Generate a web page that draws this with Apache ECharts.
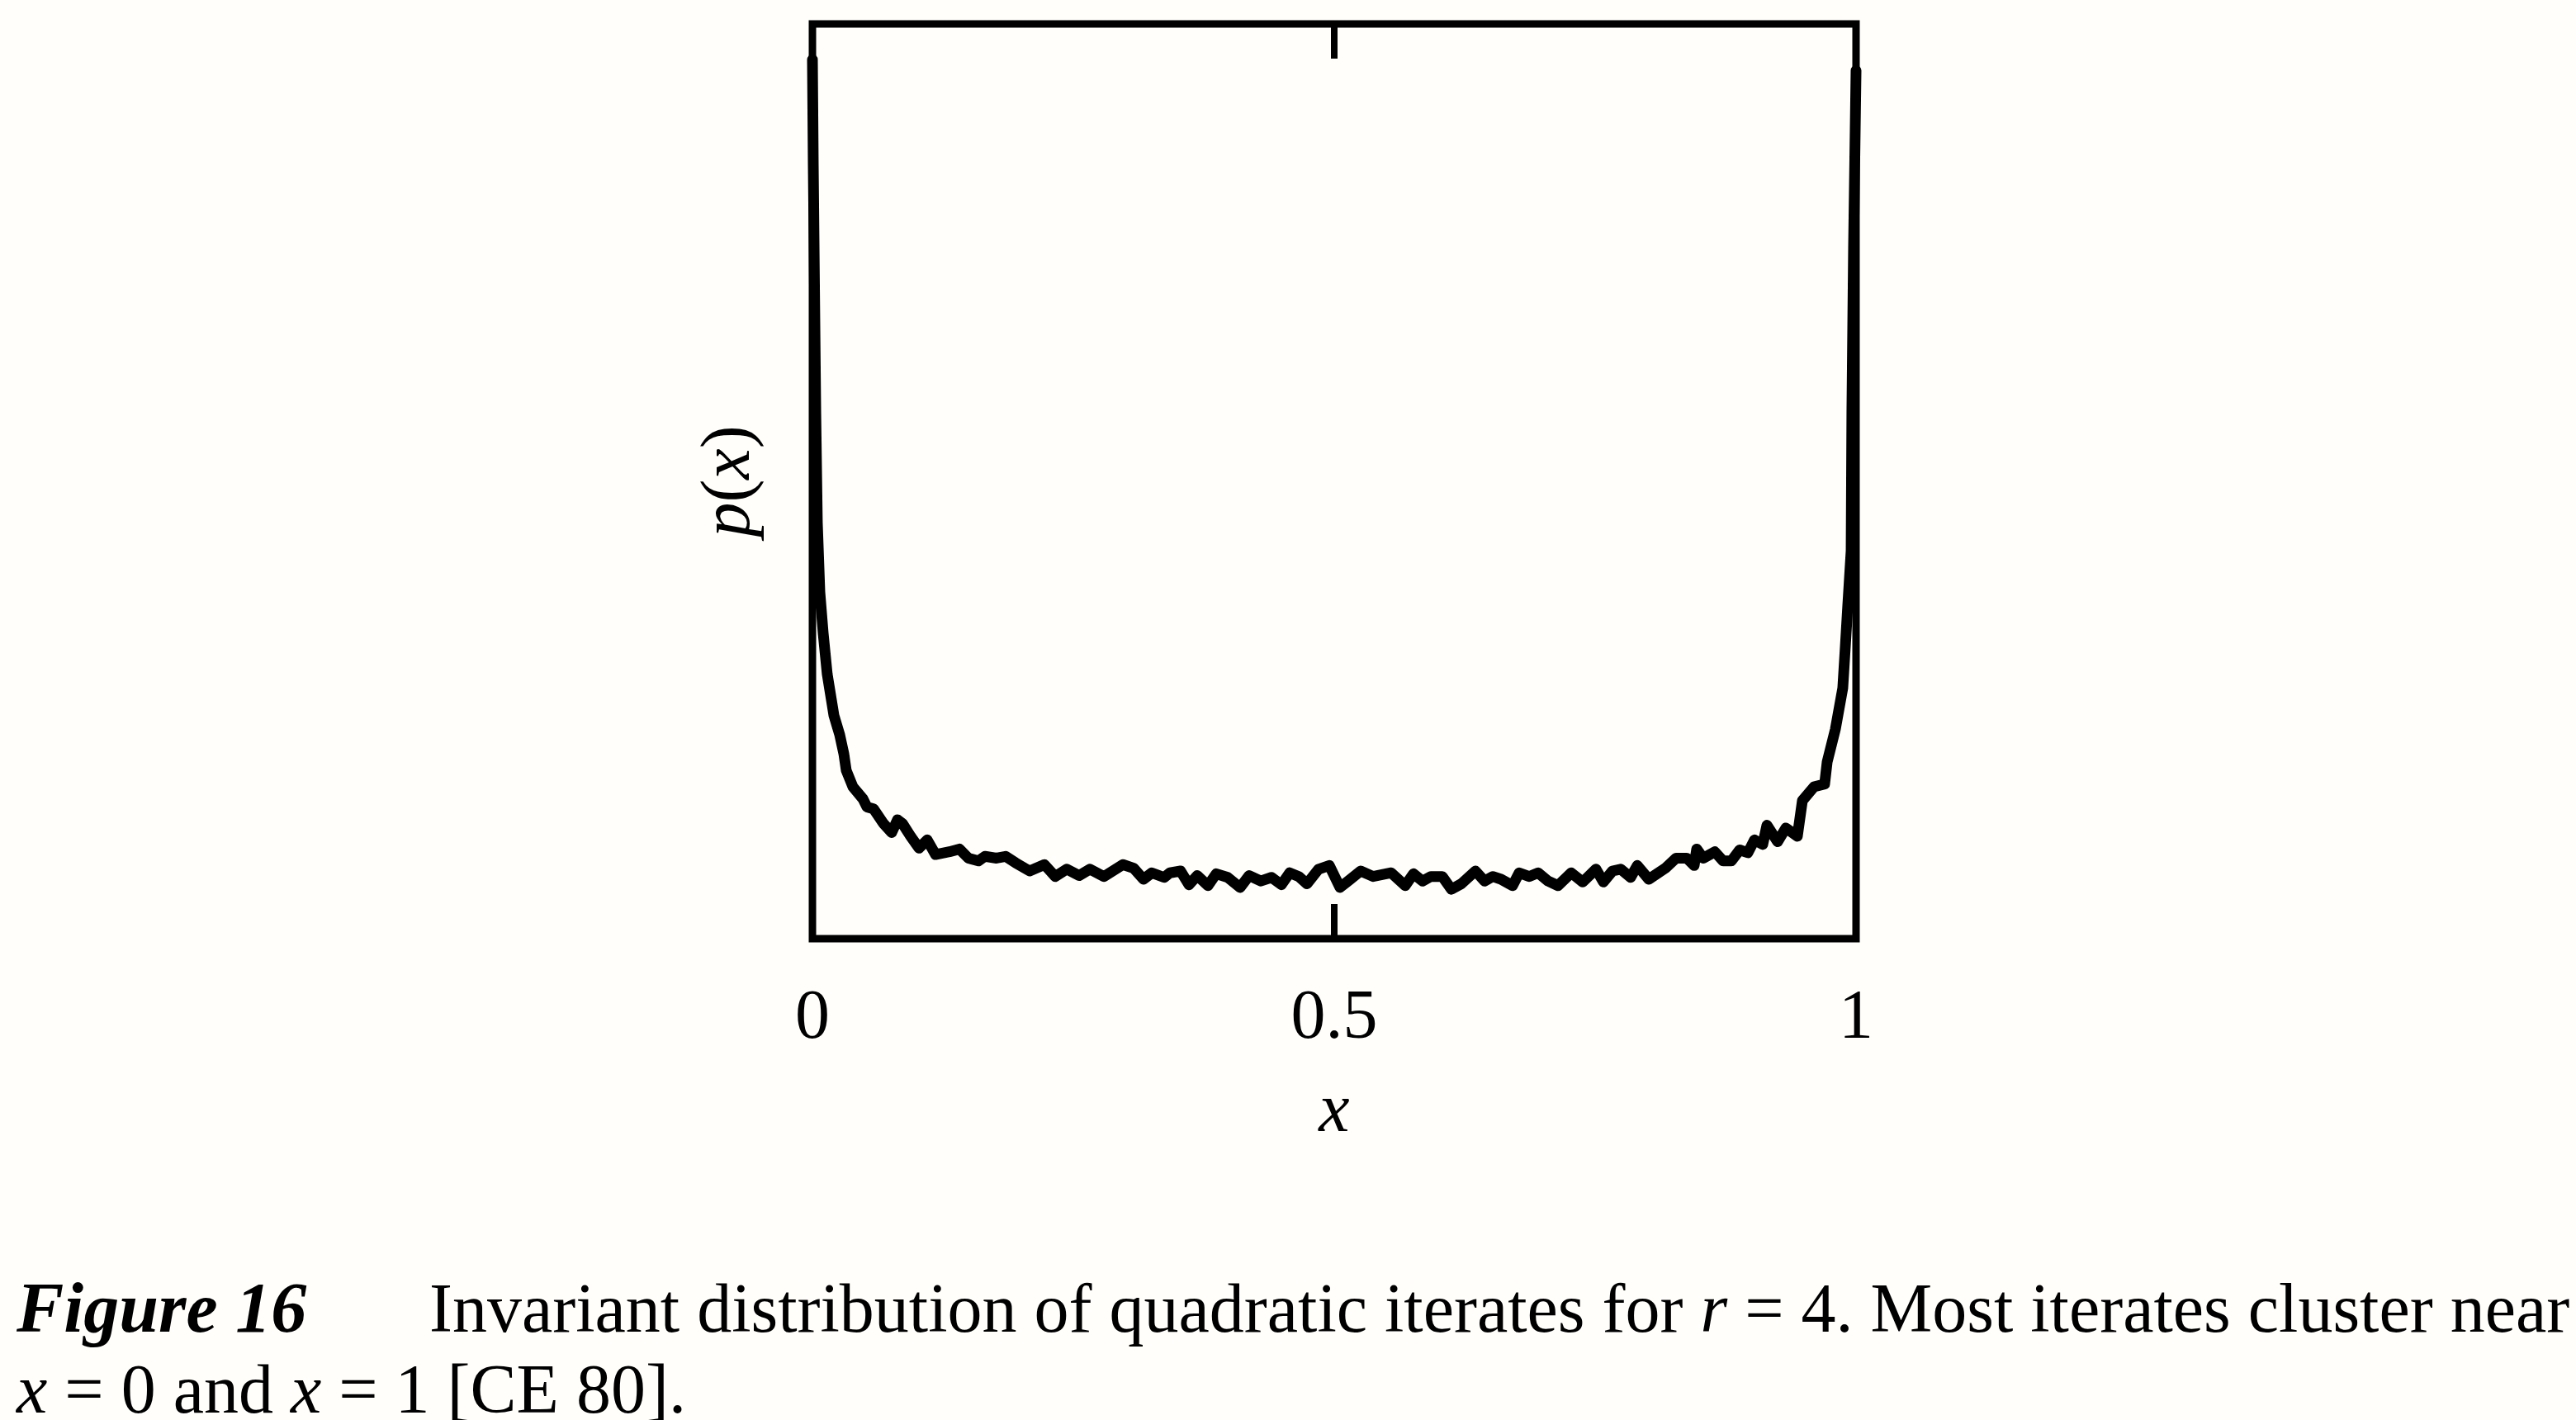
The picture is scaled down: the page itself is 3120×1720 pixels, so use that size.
<!DOCTYPE html>
<html>
<head>
<meta charset="utf-8">
<script src="https://cdn.jsdelivr.net/npm/echarts@6/dist/echarts.min.js"></script>
<style>
html,body{margin:0;padding:0;background:#fffefb;}
#chart{width:3120px;height:1720px;}
</style>
</head>
<body>
<div id="chart"></div>
<script>
// x positions of the histogram trace (0..1)
var xs = [0, 0.0008, 0.0032, 0.0047, 0.0071, 0.0103, 0.0142, 0.0206, 0.0261, 0.0301,
	0.0324, 0.0388, 0.0483, 0.0522, 0.0585, 0.0680, 0.0759, 0.0815, 0.0862, 0.0941,
	0.1021, 0.1100, 0.1179, 0.1313, 0.1408, 0.1495, 0.1590, 0.1653, 0.1764, 0.1851,
	0.1946, 0.2081, 0.2223, 0.2326, 0.2437, 0.2555, 0.2658, 0.2793, 0.2975, 0.3078,
	0.3172, 0.3252, 0.3370, 0.3426, 0.3528, 0.3608, 0.3687, 0.3790, 0.3869, 0.3979,
	0.4098, 0.4185, 0.4296, 0.4399, 0.4494, 0.4573, 0.4660, 0.4739, 0.4850, 0.4953,
	0.5055, 0.5134, 0.5253, 0.5372, 0.5546, 0.5680, 0.5759, 0.5846, 0.5926, 0.6036,
	0.6123, 0.6218, 0.6353, 0.6440, 0.6519, 0.6598, 0.6709, 0.6772, 0.6867, 0.6954,
	0.7049, 0.7144, 0.7271, 0.7381, 0.7508, 0.7579, 0.7666, 0.7745, 0.7840, 0.7904,
	0.8014, 0.8172, 0.8275, 0.8378, 0.8449, 0.8473, 0.8536, 0.8647, 0.8726, 0.8805,
	0.8885, 0.8964, 0.9027, 0.9106, 0.9146, 0.9248, 0.9328, 0.9438, 0.9486, 0.9597,
	0.9699, 0.9723, 0.9802, 0.9873, 0.9897, 0.9921, 0.9953, 0.9960, 0.9976, 1];
// p(x) (plot height = 10)
var ys = [9.61, 8.46, 5.75, 4.55, 3.79, 3.34, 2.89, 2.44, 2.23, 2.02,
	1.84, 1.66, 1.53, 1.44, 1.42, 1.26, 1.16, 1.30, 1.26, 1.12,
	0.99, 1.08, 0.92, 0.95, 0.98, 0.88, 0.85, 0.90, 0.88, 0.90,
	0.83, 0.74, 0.81, 0.68, 0.76, 0.69, 0.76, 0.68, 0.81, 0.77,
	0.65, 0.72, 0.67, 0.72, 0.74, 0.59, 0.69, 0.58, 0.71, 0.67,
	0.56, 0.69, 0.63, 0.67, 0.59, 0.72, 0.68, 0.60, 0.76, 0.80,
	0.56, 0.63, 0.74, 0.68, 0.72, 0.58, 0.71, 0.63, 0.68, 0.68,
	0.54, 0.60, 0.74, 0.63, 0.68, 0.65, 0.58, 0.72, 0.68, 0.72,
	0.63, 0.58, 0.72, 0.62, 0.76, 0.62, 0.74, 0.76, 0.67, 0.80,
	0.65, 0.77, 0.88, 0.88, 0.80, 0.98, 0.88, 0.95, 0.85, 0.85,
	0.97, 0.94, 1.08, 1.03, 1.24, 1.06, 1.21, 1.12, 1.51, 1.66,
	1.69, 1.93, 2.29, 2.74, 3.19, 3.65, 4.24, 5.75, 7.55, 9.49];
var xTickLabels = {'0': '0', '0.5': '0.5', '1': '1'};
var captionLabel = 'Figure 16';
var captionLine1 = 'Invariant distribution of quadratic iterates for {i|r} = 4. Most iterates cluster near';
var captionLine2 = '{i|x} = 0 and {i|x} = 1 [CE 80].';

var chart = {
	init: function(){
		var myChart = echarts.init(document.getElementById('chart'));
		var data = [];
		for (var i = 0; i < xs.length; i++) {
			data.push([xs[i], ys[i]]);
		}
		var mathFont = '"Liberation Serif", serif';
		var tickStyle = {inside: true, length: 42, lineStyle: {color: '#000', width: 8}};
		var options = {
			backgroundColor: '#fffefb',
			animation: false,
			grid: {
				left: 984, top: 29, width: 1264, height: 1108,
				show: true, borderColor: '#000', borderWidth: 9,
				backgroundColor: 'transparent'
			},
			xAxis: [{
				type: 'value', min: 0, max: 1, interval: 0.5, position: 'bottom',
				axisLine: {show: false},
				axisTick: tickStyle,
				splitLine: {show: false},
				axisLabel: {
					margin: 56, fontSize: 84, color: '#000', fontFamily: mathFont,
					formatter: function(v){ return xTickLabels[String(v)]; }
				},
				name: 'x', nameLocation: 'middle', nameGap: 169,
				nameTextStyle: {fontSize: 84, fontStyle: 'italic', color: '#000', fontFamily: mathFont}
			}, {
				type: 'value', min: 0, max: 1, interval: 0.5, position: 'top',
				axisLine: {show: false},
				axisTick: tickStyle,
				splitLine: {show: false},
				axisLabel: {show: false}
			}],
			yAxis: {
				type: 'value', min: 0, max: 10,
				axisLine: {show: false}, axisTick: {show: false},
				axisLabel: {show: false}, splitLine: {show: false},
				name: '{i|p}({i|x})', nameLocation: 'middle', nameGap: 57,
				nameTextStyle: {
					fontSize: 84, color: '#000', fontFamily: mathFont,
					rich: {i: {fontSize: 84, fontStyle: 'italic', fontFamily: mathFont, color: '#000'}}
				}
			},
			series: [{
				type: 'line', data: data, showSymbol: false, smooth: false,
				xAxisIndex: 0,
				lineStyle: {color: '#000', width: 13, join: 'round', cap: 'round'}
			}],
			graphic: [{
				type: 'text', x: 20, y: 1591,
				style: {text: captionLabel, font: 'italic bold 86px "Liberation Serif"', fill: '#000', verticalAlign: 'middle'}
			}, {
				type: 'text', x: 520, y: 1591,
				style: {
					text: captionLine1, font: '84px "Liberation Serif"', fill: '#000', verticalAlign: 'middle',
					rich: {i: {font: 'italic 84px "Liberation Serif"', fill: '#000'}}
				}
			}, {
				type: 'text', x: 20, y: 1689,
				style: {
					text: captionLine2, font: '84px "Liberation Serif"', fill: '#000', verticalAlign: 'middle',
					rich: {i: {font: 'italic 84px "Liberation Serif"', fill: '#000'}}
				}
			}]
		};
		myChart.setOption(options);
	}
};
chart.init();
</script>
</body>
</html>
